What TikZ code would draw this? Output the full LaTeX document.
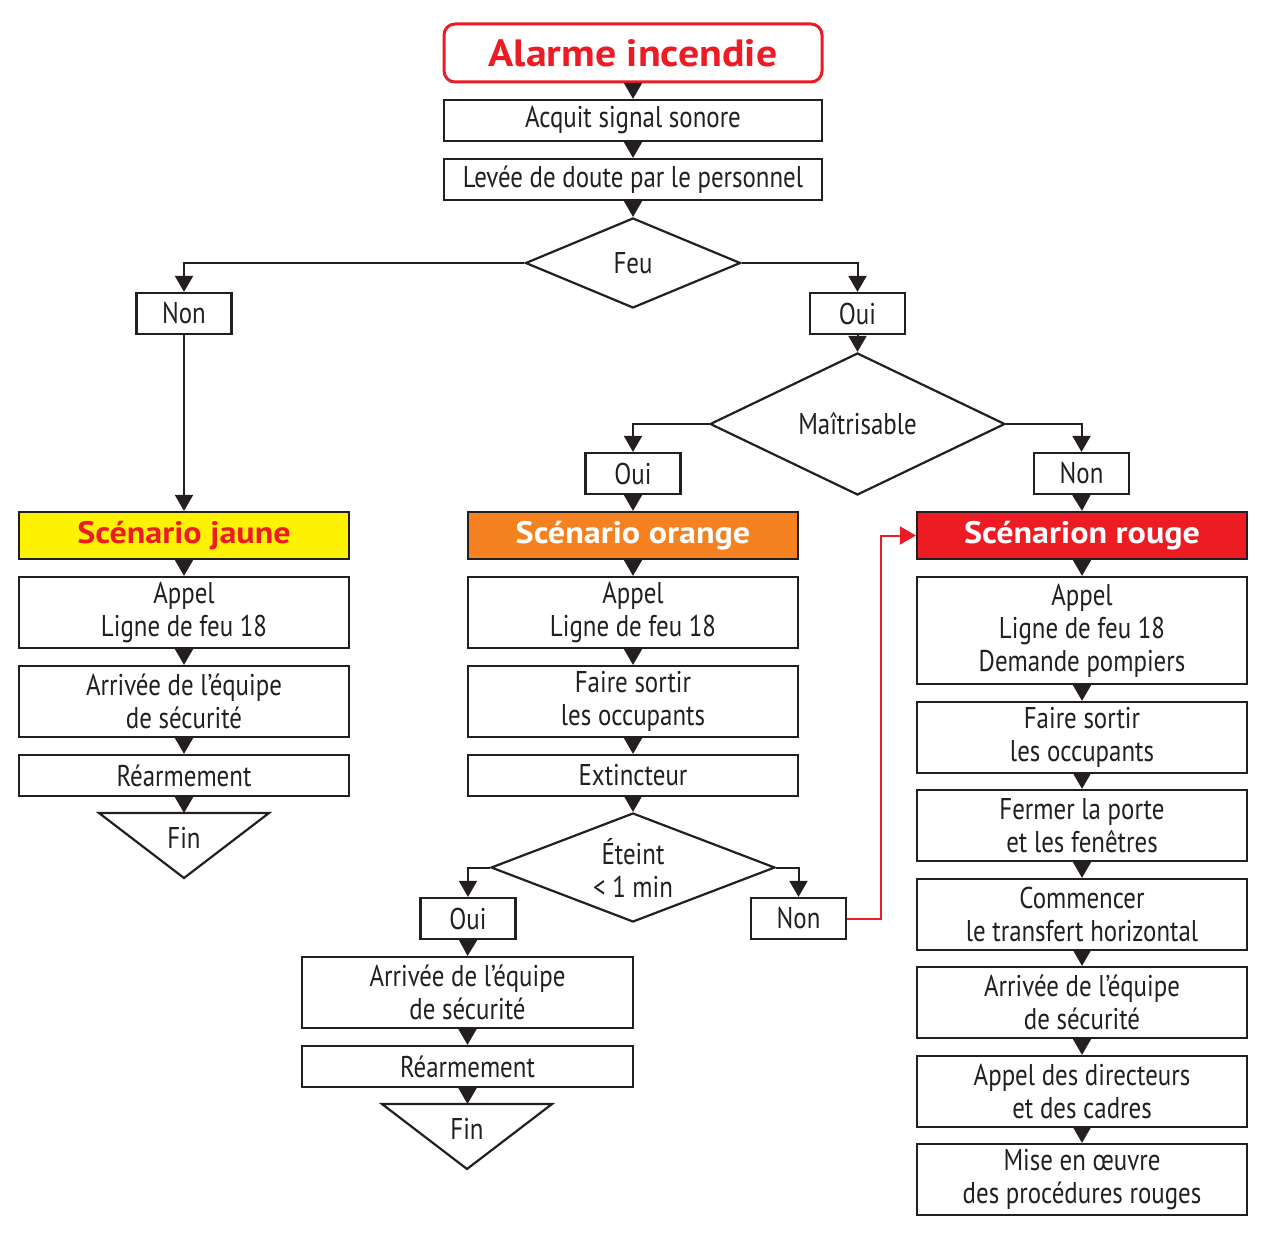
\documentclass[tikz,border=0pt]{standalone}
\usepackage{fontspec}
\setmainfont[FakeStretch=0.83]{PT Sans}
\newfontfamily\bfam[FakeStretch=1.1]{PT Sans}
\usetikzlibrary{arrows.meta,shapes.geometric}
\definecolor{ink}{RGB}{35,31,32}
\definecolor{fred}{RGB}{237,28,36}
\definecolor{fyellow}{RGB}{255,242,0}
\definecolor{forange}{RGB}{245,130,32}
\newcommand{\fs}{\fontsize{30}{33}\selectfont}
\begin{document}
\begin{tikzpicture}[x=1pt,y=-1pt,
  box/.style={draw=ink, line width=2.2pt, fill=white, inner sep=0pt, align=center, font=\fs, text=ink},
  small/.style={box, minimum width=95, minimum height=41},
  col/.style={box, minimum width=330},
  title/.style={box, minimum width=330, minimum height=47, font=\bfam\bfseries\fontsize{31}{33}\selectfont},
  dia/.style={diamond, draw=ink, line width=2.2pt, inner sep=0pt, align=center, font=\fs, text=ink},
  arr/.style={draw=ink, line width=2pt, -{Triangle[width=18pt,length=16pt]}},
  fin/.style={draw=ink, line width=2.2pt, line join=miter}
]
\useasboundingbox (0,0) rectangle (1265,1238);

% top
\node[box, draw=fred, line width=3pt, rounded corners=11pt, minimum width=378, minimum height=58,
      text=fred, font=\bfam\bfseries\fontsize{38}{40}\selectfont] (alarm) at (633,53) {Alarme incendie};
\node[box, minimum width=378, minimum height=41] (acq) at (633,120.5) {Acquit signal sonore};
\node[box, minimum width=378, minimum height=41] (lev) at (633,179.5) {Levée de doute par le personnel};
\node[dia, aspect=2.39, minimum width=215, minimum height=90] (feu) at (633,263) {Feu};
\node[small] (non1) at (184,313.5) {Non};
\node[small] (oui1) at (857.5,313.5) {Oui};
\node[dia, aspect=2.08, minimum width=295, minimum height=142] (mait) at (857.5,424) {Maîtrisable};
\node[small] (oui2) at (633,473.5) {Oui};
\node[small] (non2) at (1081.5,473.5) {Non};

% titles
\node[title, fill=fyellow, text=fred] (sj) at (184,535.5) {Scénario jaune};
\node[title, fill=forange, text=white] (so) at (633,535.5) {Scénario orange};
\node[title, fill=fred, text=white] (sr) at (1082,535.5) {Scénarion rouge};

% yellow column
\node[col, minimum height=71] (j1) at (184,612.5) {Appel\\Ligne de feu 18};
\node[col, minimum height=71] (j2) at (184,701.5) {Arrivée de l’équipe\\de sécurité};
\node[col, minimum height=41] (j3) at (184,775.5) {Réarmement};
\draw[fin] (99,813) -- (269,813) -- (184,878) -- cycle;
\coordinate (jfin) at (184,813);
\node[font=\fs, text=ink] (jfint) at (184,838) {Fin};

% orange column
\node[col, minimum height=71] (o1) at (633,612.5) {Appel\\Ligne de feu 18};
\node[col, minimum height=71] (o2) at (633,701.5) {Faire sortir\\les occupants};
\node[col, minimum height=41] (o3) at (633,775.5) {Extincteur};
\node[dia, aspect=2.6, minimum width=284, minimum height=109] (et) at (633,867.5) {Éteint\\< 1 min};
\node[small] (oui3) at (468,918.5) {Oui};
\node[small] (non3) at (798.5,918.5) {Non};
\node[box, minimum width=331, minimum height=71] (o4) at (467.5,992.5) {Arrivée de l’équipe\\de sécurité};
\node[box, minimum width=331, minimum height=41] (o5) at (467.5,1066.5) {Réarmement};
\draw[fin] (382,1104) -- (552,1104) -- (467,1169) -- cycle;
\coordinate (ofin) at (467.5,1104);
\node[font=\fs, text=ink] (ofint) at (467,1129) {Fin};

% red column
\node[col, minimum height=107] (r1) at (1082,630.5) {Appel\\Ligne de feu 18\\Demande pompiers};
\node[col, minimum height=71] (r2) at (1082,737.5) {Faire sortir\\les occupants};
\node[col, minimum height=71] (r3) at (1082,825.5) {Fermer la porte\\et les fenêtres};
\node[col, minimum height=71] (r4) at (1082,914.5) {Commencer\\le transfert horizontal};
\node[col, minimum height=71] (r5) at (1082,1002.5) {Arrivée de l’équipe\\de sécurité};
\node[col, minimum height=71] (r6) at (1082,1091.5) {Appel des directeurs\\et des cadres};
\node[col, minimum height=71] (r7) at (1082,1179.5) {Mise en œuvre\\des procédures rouges};

% connectors
\draw[arr] (alarm.south) -- (acq.north);
\draw[arr] (acq.south) -- (lev.north);
\draw[arr] (lev.south) -- (feu.north);
\draw[arr] (feu.west) -| (non1.north);
\draw[arr] (feu.east) -| (oui1.north);
\draw[arr] (oui1.south) -- (mait.north);
\draw[arr] (mait.west) -| (oui2.north);
\draw[arr] (mait.east) -| (non2.north);
\draw[arr] (non1.south) -- (sj.north);
\draw[arr] (oui2.south) -- (so.north);
\draw[arr] (non2.south) -- (sr.north);

\draw[arr] (sj.south) -- (j1.north);
\draw[arr] (j1.south) -- (j2.north);
\draw[arr] (j2.south) -- (j3.north);
\draw[arr] (j3.south) -- (jfin);

\draw[arr] (so.south) -- (o1.north);
\draw[arr] (o1.south) -- (o2.north);
\draw[arr] (o2.south) -- (o3.north);
\draw[arr] (o3.south) -- (et.north);
\draw[arr] (et.west) -| (oui3.north);
\draw[arr] (et.east) -| (non3.north);
\draw[arr] (oui3.south) -- (o4.north);
\draw[arr] (o4.south) -- (o5.north);
\draw[arr] (o5.south) -- (ofin);
\draw[arr, draw=fred] (non3.east) -- ++(34,0) |- (sr.west);

\draw[arr] (sr.south) -- (r1.north);
\draw[arr] (r1.south) -- (r2.north);
\draw[arr] (r2.south) -- (r3.north);
\draw[arr] (r3.south) -- (r4.north);
\draw[arr] (r4.south) -- (r5.north);
\draw[arr] (r5.south) -- (r6.north);
\draw[arr] (r6.south) -- (r7.north);
\end{tikzpicture}
\end{document}
